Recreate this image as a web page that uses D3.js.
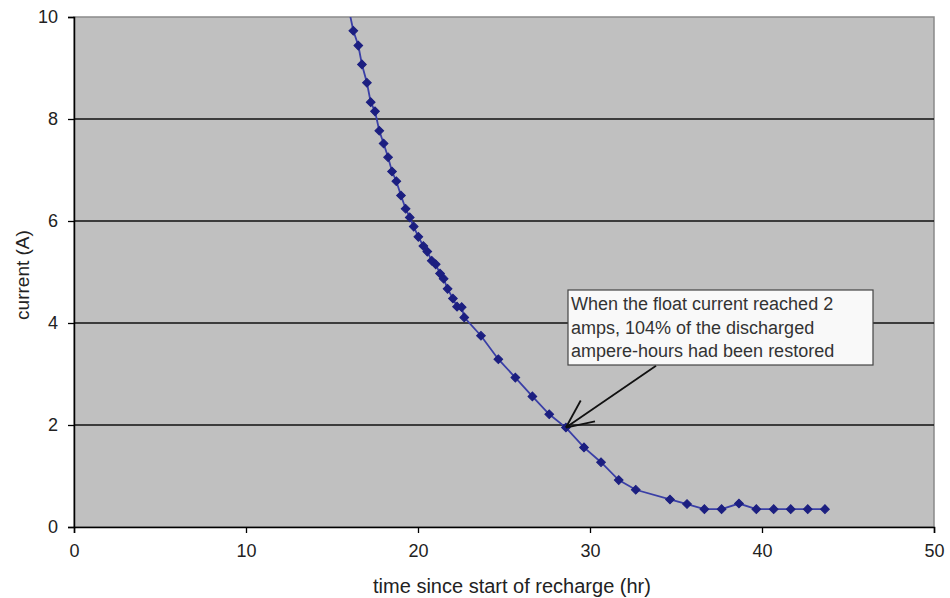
<!DOCTYPE html>
<html>
<head>
<meta charset="utf-8">
<script src="https://cdn.jsdelivr.net/npm/d3@7"></script>
<style>
  body { margin: 0; background: #fff; }
  svg { display: block; font-family: "Liberation Sans", Arial, sans-serif; }
</style>
</head>
<body>
<div id="chart"></div>
<script>
// Data -------------------------------------
var timeHr = [15.7, 16.24, 16.53, 16.74, 17.03, 17.25, 17.5, 17.75, 18.0, 18.26, 18.49, 18.74,
  19.01, 19.28, 19.52, 19.75, 20.02, 20.31, 20.54, 20.8, 21.03, 21.28, 21.49, 21.72,
  22.03, 22.27, 22.54, 22.69, 23.66, 24.67, 25.66, 26.65, 27.63, 28.6, 29.65, 30.64,
  31.67, 32.66, 34.65, 35.64, 36.65, 37.65, 38.66, 39.67, 40.68, 41.67, 42.66, 43.66];
var currentA = [10.6, 9.73, 9.44, 9.07, 8.71, 8.33, 8.15, 7.77, 7.52, 7.25, 6.97, 6.78,
  6.5, 6.24, 6.07, 5.89, 5.69, 5.51, 5.4, 5.22, 5.15, 4.97, 4.87, 4.67,
  4.48, 4.32, 4.31, 4.11, 3.75, 3.29, 2.93, 2.56, 2.21, 1.95, 1.56, 1.27,
  0.92, 0.73, 0.54, 0.45, 0.35, 0.35, 0.46, 0.35, 0.35, 0.35, 0.35, 0.35];
var xTicks = [0, 10, 20, 30, 40, 50];
var yTicks = [0, 2, 4, 6, 8, 10];
var noteLines = ["When the float current reached 2", "amps, 104% of the discharged", "ampere-hours had been restored"];
// arrow in data units: start, tip, two head ends
var arrowStart = [33.84, 3.16];
var arrowTip = [28.6, 1.95];
var arrowHeads = [[29.46, 2.48], [30.29, 2.07]];

// Layout -------------------------------------
var width = 950, height = 598;
var margin = { top: 17, right: 16, bottom: 71, left: 74 };
var plotW = width - margin.left - margin.right;
var plotH = height - margin.top - margin.bottom;

var svg = d3.select('#chart').append('svg')
  .attr('width', width)
  .attr('height', height);

var x = d3.scaleLinear().domain([0, 50]).range([0, plotW]);
var y = d3.scaleLinear().domain([0, 10]).range([plotH, 0]);

var g = svg.append('g')
  .attr('transform', 'translate(' + margin.left + ',' + margin.top + ')');

g.append('clipPath').attr('id', 'clip')
  .append('rect').attr('width', plotW).attr('height', plotH);

// plot background
g.append('rect')
  .attr('width', plotW)
  .attr('height', plotH)
  .attr('fill', '#c0c0c0')
  .attr('stroke', '#8a8a8a')
  .attr('stroke-width', 1.5);

// gridlines
g.selectAll('.grid')
  .data(yTicks.filter(function(d) { return d > 0 && d < 10; }))
  .enter().append('line')
  .attr('x1', 0).attr('x2', plotW)
  .attr('y1', function(d) { return y(d); })
  .attr('y2', function(d) { return y(d); })
  .attr('stroke', '#111')
  .attr('stroke-width', 1.5);

// Axes -------------------------------------
var xAxis = g.append('g')
  .attr('transform', 'translate(0,' + plotH + ')')
  .call(d3.axisBottom(x).tickValues(xTicks).tickSize(6).tickPadding(11));
var yAxis = g.append('g')
  .call(d3.axisLeft(y).tickValues(yTicks).tickSize(6).tickPadding(10));

[xAxis, yAxis].forEach(function(a) {
  a.select('.domain').attr('stroke', '#000').attr('stroke-width', 1.5);
  a.selectAll('.tick line').attr('stroke', '#000').attr('stroke-width', 1.3);
  a.selectAll('.tick text')
    .attr('fill', '#222')
    .style('font-size', '18px')
    .style('font-family', '"Liberation Sans", Arial, sans-serif');
});

// axis titles
svg.append('text')
  .attr('x', margin.left + x(25) + 8)
  .attr('y', 593)
  .attr('text-anchor', 'middle')
  .attr('fill', '#222')
  .style('font-size', '20px')
  .text('time since start of recharge (hr)');

svg.append('text')
  .attr('transform', 'translate(29,' + (margin.top + y(5) + 3) + ') rotate(-90)')
  .attr('text-anchor', 'middle')
  .attr('fill', '#222')
  .style('font-size', '19px')
  .text('current (A)');

// Series -------------------------------------
var points = timeHr.map(function(t, i) { return { t: t, a: currentA[i] }; });

var series = g.append('g').attr('clip-path', 'url(#clip)');

series.append('path')
  .datum(points)
  .attr('fill', 'none')
  .attr('stroke', '#3a3fa6')
  .attr('stroke-width', 1.8)
  .attr('d', d3.line()
    .x(function(d) { return x(d.t); })
    .y(function(d) { return y(d.a); }));

var diamond = d3.symbol().type(d3.symbolSquare).size(38);
series.selectAll('.pt')
  .data(points)
  .enter().append('path')
  .attr('d', diamond)
  .attr('transform', function(d) {
    return 'translate(' + x(d.t) + ',' + y(d.a) + ') rotate(45)';
  })
  .attr('fill', '#1c1f80')
  .attr('stroke', '#1c1f80')
  .attr('stroke-width', 1);

// Annotation -------------------------------------
var arrow = g.append('g')
  .attr('stroke', '#111')
  .attr('stroke-width', 1.8)
  .attr('fill', 'none');
arrow.append('line')
  .attr('x1', x(arrowStart[0])).attr('y1', y(arrowStart[1]))
  .attr('x2', x(arrowTip[0])).attr('y2', y(arrowTip[1]));
arrowHeads.forEach(function(h) {
  arrow.append('line')
    .attr('x1', x(h[0])).attr('y1', y(h[1]))
    .attr('x2', x(arrowTip[0])).attr('y2', y(arrowTip[1]));
});

var note = svg.append('g').attr('transform', 'translate(568,290)');
note.append('rect')
  .attr('width', 305)
  .attr('height', 75)
  .attr('fill', '#f9f9f9')
  .attr('stroke', '#444')
  .attr('stroke-width', 1.2);
note.selectAll('text')
  .data(noteLines)
  .enter().append('text')
  .attr('x', 3)
  .attr('y', function(d, i) { return 20 + i * 23.5; })
  .attr('fill', '#333')
  .style('font-size', '18px')
  .text(function(d) { return d; });
</script>
</body>
</html>
